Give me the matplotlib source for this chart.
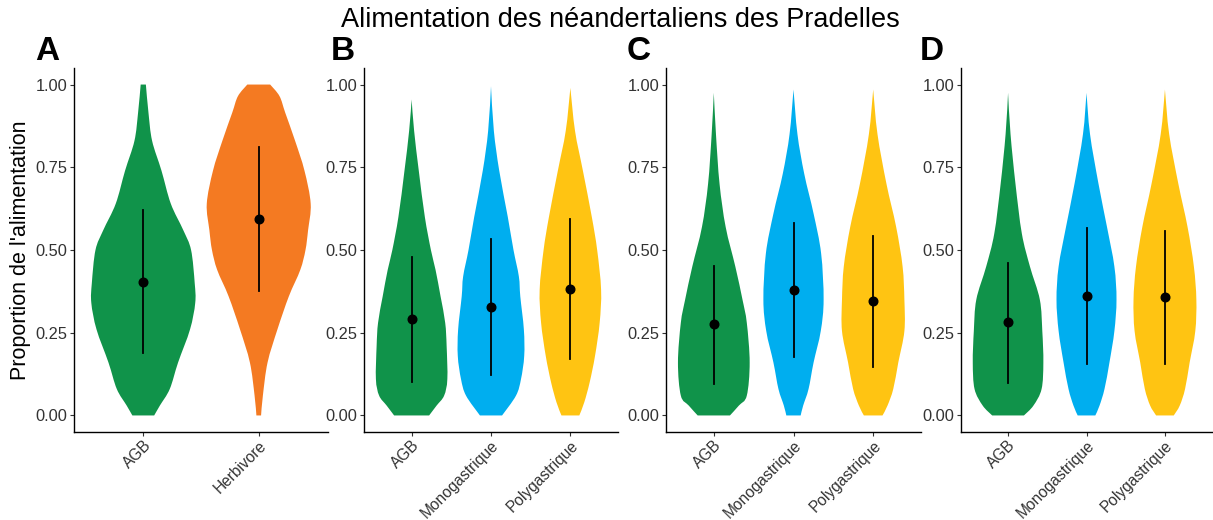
import matplotlib
matplotlib.use("Agg")
import matplotlib.pyplot as plt
from matplotlib.patches import PathPatch
from matplotlib.path import Path

plt.rcParams['font.family'] = ['Liberation Sans', 'DejaVu Sans']

title = "Alimentation des néandertaliens des Pradelles"
ylabel = "Proportion de l'alimentation"
panel_tags = ["A", "B", "C", "D"]

cats_A = ["AGB", "Herbivore"]
cats_BCD = ["AGB", "Monogastrique", "Polygastrique"]

colors = {"AGB": "#10934A", "Herbivore": "#F47A22",
          "Monogastrique": "#00AEEF", "Polygastrique": "#FFC412"}

# ---- violin outlines: y levels and relative half-width (1 = max width 0.9) ----
# Panel A
A_AGB_y = [0.00, 0.03, 0.08, 0.16, 0.26, 0.34, 0.40, 0.50, 0.56, 0.64, 0.74, 0.83, 0.915, 1.00]
A_AGB_w = [0.21, 0.32, 0.51, 0.67, 0.90, 1.00, 0.99, 0.92, 0.77, 0.53, 0.35, 0.17, 0.10, 0.05]
A_HER_y = [0.00, 0.06, 0.16, 0.26, 0.36, 0.44, 0.50, 0.56, 0.64, 0.74, 0.83, 0.915, 0.965, 1.00]
A_HER_w = [0.045, 0.08, 0.17, 0.36, 0.58, 0.80, 0.90, 0.95, 1.00, 0.88, 0.70, 0.51, 0.40, 0.22]
# Panel B
B_AGB_y = [0.00, 0.03, 0.06, 0.11, 0.21, 0.28, 0.36, 0.44, 0.50, 0.60, 0.74, 0.86, 0.955]
B_AGB_w = [0.49, 0.70, 0.91, 1.00, 0.98, 0.94, 0.81, 0.67, 0.54, 0.37, 0.20, 0.07, 0.0]
B_MON_y = [0.00, 0.06, 0.11, 0.18, 0.26, 0.36, 0.42, 0.50, 0.60, 0.74, 0.86, 0.995]
B_MON_w = [0.31, 0.70, 0.84, 0.93, 0.92, 0.82, 0.78, 0.63, 0.47, 0.23, 0.08, 0.0]
B_POL_y = [0.00, 0.04, 0.10, 0.18, 0.28, 0.38, 0.50, 0.60, 0.74, 0.86, 0.99]
B_POL_w = [0.25, 0.39, 0.54, 0.69, 0.82, 0.86, 0.75, 0.60, 0.35, 0.13, 0.0]
# Panel C
C_AGB_y = [0.00, 0.03, 0.06, 0.16, 0.28, 0.35, 0.45, 0.57, 0.70, 0.85, 0.975]
C_AGB_w = [0.45, 0.70, 0.92, 1.00, 0.92, 0.80, 0.60, 0.33, 0.16, 0.06, 0.0]
C_MON_y = [0.00, 0.03, 0.08, 0.16, 0.255, 0.35, 0.49, 0.61, 0.73, 0.85, 0.985]
C_MON_w = [0.20, 0.27, 0.42, 0.56, 0.76, 0.84, 0.77, 0.56, 0.30, 0.11, 0.0]
C_POL_y = [0.00, 0.03, 0.08, 0.16, 0.255, 0.35, 0.45, 0.57, 0.70, 0.85, 0.985]
C_POL_w = [0.26, 0.40, 0.56, 0.70, 0.87, 0.87, 0.82, 0.64, 0.37, 0.12, 0.0]
# Panel D
D_AGB_y = [0.00, 0.03, 0.08, 0.16, 0.255, 0.35, 0.45, 0.55, 0.70, 0.85, 0.975]
D_AGB_w = [0.45, 0.72, 0.95, 1.00, 0.97, 0.90, 0.62, 0.39, 0.21, 0.07, 0.0]
D_MON_y = [0.00, 0.03, 0.08, 0.16, 0.255, 0.35, 0.45, 0.57, 0.70, 0.85, 0.975]
D_MON_w = [0.25, 0.37, 0.51, 0.65, 0.79, 0.85, 0.79, 0.58, 0.34, 0.10, 0.0]
D_POL_y = [0.00, 0.03, 0.08, 0.16, 0.255, 0.35, 0.45, 0.57, 0.70, 0.85, 0.985]
D_POL_w = [0.25, 0.42, 0.57, 0.70, 0.86, 0.89, 0.82, 0.64, 0.38, 0.12, 0.0]

# ---- mean and range (point + line) ----
A_mean = [0.404, 0.595]; A_lo = [0.189, 0.377]; A_hi = [0.620, 0.812]
B_mean = [0.290, 0.327, 0.382]; B_lo = [0.100, 0.123, 0.170]; B_hi = [0.480, 0.532, 0.595]
C_mean = [0.275, 0.378, 0.347]; C_lo = [0.096, 0.176, 0.146]; C_hi = [0.451, 0.583, 0.543]
D_mean = [0.281, 0.361, 0.357]; D_lo = [0.098, 0.156, 0.156]; D_hi = [0.462, 0.566, 0.556]

yticks = [0.00, 0.25, 0.50, 0.75, 1.00]
ytick_labels = ["0.00", "0.25", "0.50", "0.75", "1.00"]

panels = [
    (cats_A, [(A_AGB_y, A_AGB_w), (A_HER_y, A_HER_w)], A_mean, A_lo, A_hi),
    (cats_BCD, [(B_AGB_y, B_AGB_w), (B_MON_y, B_MON_w), (B_POL_y, B_POL_w)], B_mean, B_lo, B_hi),
    (cats_BCD, [(C_AGB_y, C_AGB_w), (C_MON_y, C_MON_w), (C_POL_y, C_POL_w)], C_mean, C_lo, C_hi),
    (cats_BCD, [(D_AGB_y, D_AGB_w), (D_MON_y, D_MON_w), (D_POL_y, D_POL_w)], D_mean, D_lo, D_hi),
]


def smooth_segments(pts):
    """Cubic Bezier control points (Catmull-Rom style) through given points."""
    verts, codes = [], []
    n = len(pts)
    for k in range(n - 1):
        p0 = pts[k - 1] if k > 0 else pts[k]
        p1 = pts[k]
        p2 = pts[k + 1]
        p3 = pts[k + 2] if k + 2 < n else pts[k + 1]
        c1 = (p1[0] + (p2[0] - p0[0]) / 6, p1[1] + (p2[1] - p0[1]) / 6)
        c2 = (p2[0] - (p3[0] - p1[0]) / 6, p2[1] - (p3[1] - p1[1]) / 6)
        verts += [c1, c2, p2]
        codes += [Path.CURVE4] * 3
    return verts, codes


def violin_path(x0, ys, ws):
    right = [(x0 + 0.45 * w, y) for y, w in zip(ys, ws)]
    left = [(x0 - 0.45 * w, y) for y, w in zip(ys[::-1], ws[::-1])]
    verts = [right[0]]
    codes = [Path.MOVETO]
    v, c = smooth_segments(right)
    verts += v; codes += c
    verts.append(left[0]); codes.append(Path.LINETO)
    v, c = smooth_segments(left)
    verts += v; codes += c
    verts.append(right[0]); codes.append(Path.CLOSEPOLY)
    return Path(verts, codes)


W, H = 1213, 520
fig = plt.figure(figsize=(W / 100, H / 100), dpi=100)
ax_px = [(74, 328), (364, 618), (666, 921), (961, 1212)]
top_px, bot_px = 68, 432
tag_x = [35, 331, 627, 920]

for i, ((cats, shapes, mean, lo, hi), (l, r)) in enumerate(zip(panels, ax_px)):
    ax = fig.add_axes([l / W, (H - bot_px) / H, (r - l) / W, (bot_px - top_px) / H])
    n = len(cats)
    for j, (cat, (ys, ws)) in enumerate(zip(cats, shapes)):
        x0 = j + 1
        ax.add_patch(PathPatch(violin_path(x0, ys, ws), facecolor=colors[cat],
                               edgecolor='none', zorder=1))
        ax.plot([x0, x0], [lo[j], hi[j]], color='black', lw=1.3, zorder=2)
        ax.plot([x0], [mean[j]], 'o', color='black', ms=6.2, zorder=3)
    ax.set_xlim(0.4, n + 0.6)
    ax.set_ylim(-0.05, 1.05)
    ax.set_xticks(range(1, n + 1))
    ax.set_xticklabels(cats, rotation=45, ha='right', va='top', rotation_mode='anchor',
                       fontsize=11.2, color='#333333')
    ax.set_yticks(yticks)
    ax.set_yticklabels(ytick_labels, fontsize=11.8, color='#333333')
    for s in ['top', 'right']:
        ax.spines[s].set_visible(False)
    for s in ['left', 'bottom']:
        ax.spines[s].set_linewidth(1.0)
    ax.tick_params(axis='both', length=3, width=0.8, color='#333333')
    ax.tick_params(axis='y', pad=2)
    ax.tick_params(axis='x', pad=1)
    if i == 0:
        ax.set_ylabel(ylabel, fontsize=15.5)
        ax.yaxis.set_label_coords((21 - l) / (r - l), 0.5)
        ax.yaxis.label.set_va('center')
    fig.text(tag_x[i] / W, 1 - 51 / H, panel_tags[i], fontsize=24,
             fontweight='bold', ha='left', va='center')

fig.text(620 / W, 1 - 20 / H, title, fontsize=19.5, ha='center', va='center')

fig.savefig("out.png", dpi=100)
